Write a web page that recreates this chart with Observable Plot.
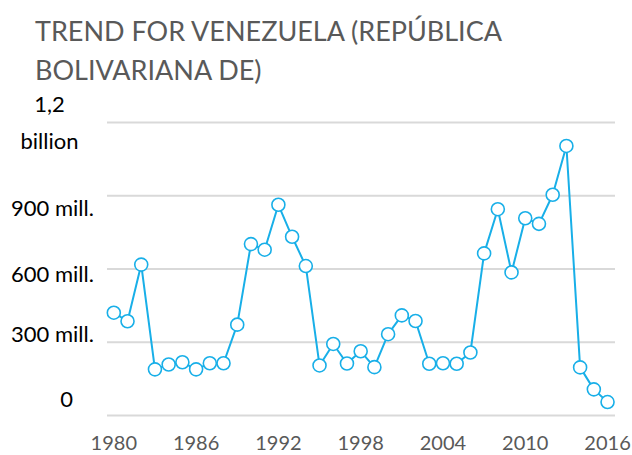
<!DOCTYPE html>
<html>
<head>
<meta charset="utf-8">
<script src="https://cdn.jsdelivr.net/npm/d3@7"></script>
<script src="https://cdn.jsdelivr.net/npm/@observablehq/plot@0.6"></script>
<style>
  html, body { margin: 0; padding: 0; background: #fff; }
  #wrap { position: relative; width: 632px; height: 455px; overflow: hidden; }
  #title { position: absolute; left: 35px; top: 11px; font-family: Lato, sans-serif; font-size: 27px; line-height: 39px; color: #595959; white-space: nowrap; }
  #chart { position: absolute; left: 0; top: 0; }
</style>
</head>
<body>
<div id="wrap">
  <div id="chart"></div>
  <div id="title">TREND FOR VENEZUELA (REPÚBLICA<br>BOLIVARIANA DE)</div>
</div>
<script>
const years = d3.range(1980, 2017);
const values = [421, 386, 618, 189, 209, 218, 189, 214, 214, 372, 702, 679, 863, 732, 612,
  205, 293, 213, 263, 198, 333, 410, 387, 212, 214, 212, 258, 664, 845, 586, 808, 785, 904, 1104, 197, 107, 55];
const xTicks = [1980, 1986, 1992, 1998, 2004, 2010, 2016];
const yTicks = [0, 300, 600, 900, 1200];
const yLabels = ["0", "300 mill.", "600 mill.", "900 mill.", "1,2\nbillion"];

const data = years.map((y, i) => ({year: y, value: values[i]}));
const color = "#18AFE8";
const font = "Lato, sans-serif";

// per-label offsets (Excel-style label placement)
const yLabelPos = [
  {dx: -41, dy: -20},
  {dx: -55, dy: -12},
  {dx: -55, dy: 1},
  {dx: -55, dy: 8},
  {dx: -58, dy: -4}
];

const yAxes = yTicks.map((t, i) => Plot.axisY([t], {
  label: null, tickSize: 0, tickPadding: 0, textAnchor: "middle",
  dx: yLabelPos[i].dx, dy: yLabelPos[i].dy,
  tickFormat: () => yLabels[i], fontSize: 22, fill: "#000", lineHeight: 1.7
}));

const chart = Plot.plot({
  width: 632, height: 455,
  marginLeft: 107, marginRight: 17, marginTop: 122, marginBottom: 40,
  style: {fontFamily: font, background: "transparent", overflow: "visible"},
  x: {domain: [1979.54, 2016.58]},
  y: {domain: [0, 1200]},
  marks: [
    Plot.ruleY(yTicks, {stroke: "#d9d9d9", strokeWidth: 1.8}),
    ...yAxes,
    Plot.axisX(xTicks, {label: null, tickSize: 0, tickPadding: 20, tickFormat: d => String(d), fontSize: 20, fill: "#595959"}),
    Plot.line(data, {x: "year", y: "value", stroke: color, strokeWidth: 2}),
    Plot.dot(data, {x: "year", y: "value", r: 6.5, stroke: color, strokeWidth: 1.6, fill: "white"})
  ]
});
document.getElementById("chart").appendChild(chart);
</script>
</body>
</html>
